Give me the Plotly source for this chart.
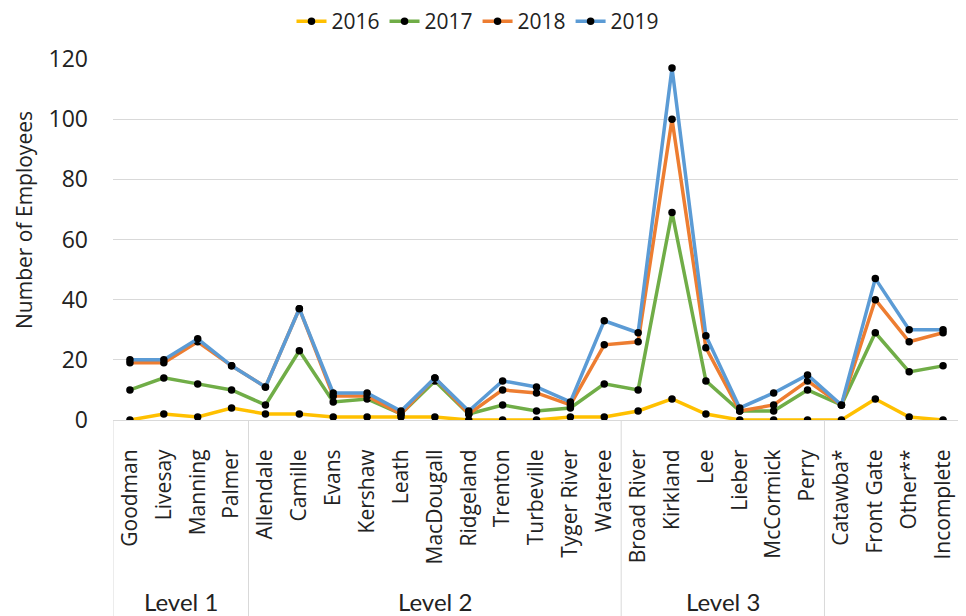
import plotly.graph_objects as go

categories = ["Goodman", "Livesay", "Manning", "Palmer",
              "Allendale", "Camille", "Evans", "Kershaw", "Leath", "MacDougall",
              "Ridgeland", "Trenton", "Turbeville", "Tyger River", "Wateree",
              "Broad River", "Kirkland", "Lee", "Lieber", "McCormick", "Perry",
              "Catawba*", "Front Gate", "Other**", "Incomplete"]

v2016 = [0, 2, 1, 4, 2, 2, 1, 1, 1, 1, 0, 0, 0, 1, 1, 3, 7, 2, 0, 0, 0, 0, 7, 1, 0]
v2017 = [10, 14, 12, 10, 5, 23, 6, 7, 2, 13, 2, 5, 3, 4, 12, 10, 69, 13, 3, 3, 10, 5, 29, 16, 18]
v2018 = [19, 19, 26, 18, 11, 37, 8, 8, 2, 14, 2, 10, 9, 5, 25, 26, 100, 24, 3, 5, 13, 5, 40, 26, 29]
v2019 = [20, 20, 27, 18, 11, 37, 9, 9, 3, 14, 3, 13, 11, 6, 33, 29, 117, 28, 4, 9, 15, 5, 47, 30, 30]

series_names = ["2016", "2017", "2018", "2019"]
series_values = [v2016, v2017, v2018, v2019]
series_colors = ["#FFC000", "#70AD47", "#ED7D31", "#5B9BD5"]

groups = ["Level 1", "Level 2", "Level 3", ""]
group_sizes = [4, 11, 6, 4]

# the page body has an 8px margin, so figure coords = page coords - 8
OFF = 8
W, H = 966 - OFF, 616 - OFF
ML, MR, MT, MB = 113 - OFF, 6, 59 - OFF, 196
plot_h = H - MT - MB
plot_w = W - ML - MR
y0_fig = MT + plot_h  # figure y of the x axis


def py(page_y):
    return (y0_fig - (page_y - OFF)) / plot_h


def px(page_x):
    return ((page_x - OFF) - ML) / plot_w


fig = go.Figure()
for name, vals, col in zip(series_names, series_values, series_colors):
    fig.add_trace(go.Scatter(
        x=categories, y=vals, name=name, mode="lines+markers",
        line=dict(color=col, width=3.5),
        marker=dict(color="black", size=7.5),
    ))

# group separators and labels below the axis
bottom = -MB / plot_h
start = 0
bounds = [-0.5]
for g, n in zip(groups, group_sizes):
    end = start + n
    bounds.append(end - 0.5)
    if g:
        fig.add_annotation(x=(start + end - 1) / 2, y=py(601),
                           xref="x", yref="paper", text=g, showarrow=False,
                           xanchor="center", yanchor="middle",
                           font=dict(family="Lato", size=24, color="#222"))
    start = end
for b in bounds:
    fig.add_shape(type="line", xref="x", yref="paper", x0=b, x1=b, y0=0, y1=bottom,
                  line=dict(color="#D9D9D9", width=1))

# y-axis title
fig.add_annotation(x=px(24), y=py(220),
                   xref="paper", yref="paper", text="Number of Employees",
                   textangle=-90, showarrow=False,
                   xanchor="center", yanchor="middle",
                   font=dict(size=21, color="#222"))

fig.update_layout(
    width=W, height=H,
    margin=dict(l=ML, r=MR, t=MT, b=MB, autoexpand=False),
    paper_bgcolor="white", plot_bgcolor="white",
    font=dict(family="Open Sans", size=21, color="#222"),
    showlegend=True,
    legend=dict(orientation="h", x=px(478), xanchor="center",
                y=py(OFF - 7), yanchor="top", bgcolor="rgba(0,0,0,0)",
                font=dict(size=21), itemwidth=30, tracegroupgap=0),
    xaxis=dict(type="category", range=[-0.5, 24.5], tickangle=-90,
               showgrid=False, showline=True, linecolor="#D9D9D9", linewidth=1,
               ticks="", ticklabelstandoff=20, tickfont=dict(size=21)),
    yaxis=dict(range=[0, 120], dtick=20, showgrid=True, gridcolor="#D9D9D9",
               zeroline=False, showline=False, ticks="", ticklabelstandoff=24,
               tickfont=dict(size=23)),
)

fig.write_html("out.html")
